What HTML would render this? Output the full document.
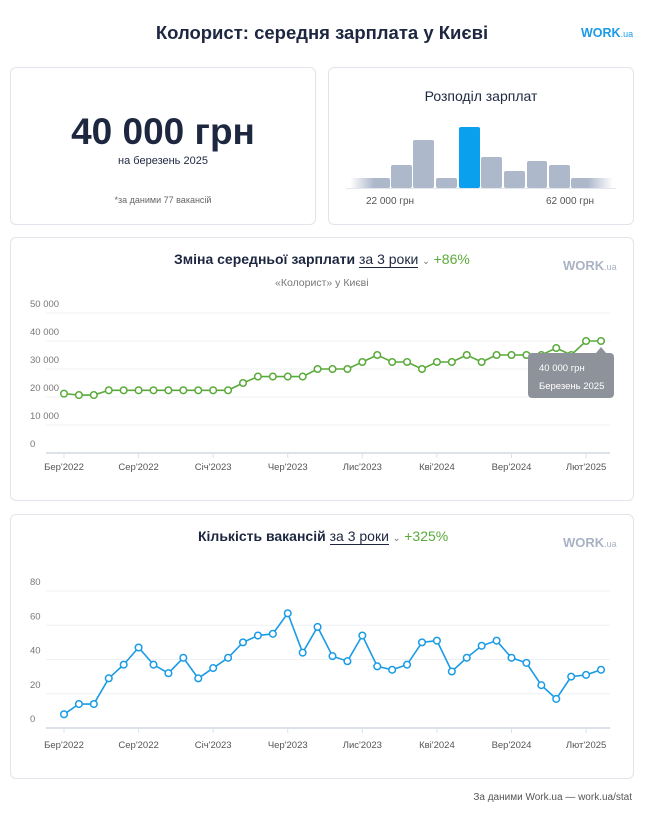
<!DOCTYPE html>
<html><head><meta charset="utf-8">
<style>
body{margin:0;background:#fff;font-family:"Liberation Sans","DejaVu Sans",sans-serif;}
#root{position:relative;width:656px;height:815px;overflow:hidden;background:#fff;}
.card{position:absolute;border:1px solid #e1e4ea;border-radius:6px;background:#fff;box-sizing:border-box;}
.abs{position:absolute;white-space:nowrap;}
svg text{font-family:"Liberation Sans","DejaVu Sans",sans-serif;}
</style></head>
<body><div id="root">
<div class="abs" style="left:0;width:644px;top:22px;text-align:center;font-size:18.5px;font-weight:bold;color:#1d2740;">Колорист: середня зарплата у Києві</div>
<div class="abs" style="left:581px;top:26px;font-size:12.5px;font-weight:bold;color:#1a9be6;">WORK<span style="font-size:9px;font-weight:normal">.ua</span></div>

<div class="card" style="left:10px;top:67px;width:306px;height:158px;">
 <div class="abs" style="left:0;width:304px;top:43px;text-align:center;font-size:37px;font-weight:bold;color:#1d2740;">40 000 грн</div>
 <div class="abs" style="left:0;width:304px;top:87px;text-align:center;font-size:11px;color:#1d2740;">на березень 2025</div>
 <div class="abs" style="left:0;width:304px;top:127px;text-align:center;font-size:9px;color:#666;">*за даними 77 вакансій</div>
</div>

<div class="card" style="left:328px;top:67px;width:306px;height:158px;">
 <div class="abs" style="left:0;width:304px;top:20px;text-align:center;font-size:14px;color:#1d2740;">Розподіл зарплат</div>
</div>
<svg class="abs" style="left:0;top:0" width="656" height="815" id="hist">
 <defs>
  <linearGradient id="fl" x1="0" x2="1"><stop offset="0" stop-color="#aeb8cb" stop-opacity="0"/><stop offset="0.6" stop-color="#aeb8cb"/></linearGradient>
  <linearGradient id="fr" x1="1" x2="0"><stop offset="0" stop-color="#aeb8cb" stop-opacity="0"/><stop offset="0.6" stop-color="#aeb8cb"/></linearGradient>
 </defs>
</svg>

<div class="card" style="left:10px;top:237px;width:624px;height:264px;">
 <div class="abs" style="left:163px;top:13px;font-size:14px;font-weight:bold;color:#1d2740;">Зміна середньої зарплати <span style="font-weight:normal;border-bottom:1px solid #1d2740;">за 3 роки</span> <span style="font-size:9px;color:#888;">&#8964;</span> <span style="color:#5aaa3a;font-weight:normal;">+86%</span></div>
 <div class="abs" style="left:264px;top:39px;font-size:10.5px;color:#777;">«Колорист» у Києві</div>
 <div class="abs" style="left:552px;top:20px;font-size:13px;font-weight:bold;color:#a9b3c4;">WORK<span style="font-size:9px;font-weight:normal">.ua</span></div>
</div>
<div class="card" style="left:10px;top:514px;width:624px;height:265px;">
 <div class="abs" style="left:187px;top:13px;font-size:14px;font-weight:bold;color:#1d2740;">Кількість вакансій <span style="font-weight:normal;border-bottom:1px solid #1d2740;">за 3 роки</span> <span style="font-size:9px;color:#888;">&#8964;</span> <span style="color:#5aaa3a;font-weight:normal;">+325%</span></div>
 <div class="abs" style="left:552px;top:20px;font-size:13px;font-weight:bold;color:#a9b3c4;">WORK<span style="font-size:9px;font-weight:normal">.ua</span></div>
</div>
<svg class="abs" style="left:0;top:0" width="656" height="815" id="charts"></svg>
<div class="abs" style="right:24px;top:792px;font-size:10px;color:#555;">За даними Work.ua — work.ua/stat</div>
</div>
<script>
const histHeights=[10,23,48,10,61,31,17,27,23,10];
const monthLabels=["Бер'2022","Сер'2022","Січ'2023","Чер'2023","Лис'2023","Кві'2024","Вер'2024","Лют'2025"];
const salaryTicks=[0,10000,20000,30000,40000,50000];
const salaryTickLabels=["0","10 000","20 000","30 000","40 000","50 000"];
const salaryValues=[21200,20700,20700,22400,22400,22400,22400,22400,22400,22400,22400,22400,25000,27300,27300,27300,27300,30000,30000,30000,32500,35000,32500,32500,30000,32500,32500,35000,32500,35000,35000,35000,35000,37500,35000,40000,40000];
const vacancyTicks=[0,20,40,60,80];
const vacancyValues=[8,14,14,29,37,47,37,32,41,29,35,41,50,54,55,67,44,59,42,39,54,36,34,37,50,51,33,41,48,51,41,38,25,17,30,31,34];
const NS="http://www.w3.org/2000/svg";
function mk(p,t,a){const e=document.createElementNS(NS,t);for(const k in a)e.setAttribute(k,a[k]);p.appendChild(e);return e;}
const hs=document.getElementById('hist');
const hx=[[350,390],[391,412],[413,434],[436,457],[459,480],[481,502],[504,525],[527,547],[549,570],[571,613]];
const hBase=188;
histHeights.forEach((h,i)=>{
 const fill=i===0?'url(#fl)':i===histHeights.length-1?'url(#fr)':i===4?'#0ba0ee':'#aeb8cb';
 const r=mk(hs,'rect',{x:hx[i][0],y:hBase-h,width:hx[i][1]-hx[i][0],height:h,rx:2,fill:fill});
 
 
});
mk(hs,'line',{x1:346,x2:616,y1:hBase+0.5,y2:hBase+0.5,stroke:'#e3e6ec'});
[[390,'22 000 грн'],[570,'62 000 грн']].forEach(([x,t])=>{const e=mk(hs,'text',{x:x,y:204,'text-anchor':'middle','font-size':10,fill:'#555'});e.textContent=t;
 
 });
const svg=document.getElementById('charts');
const x0=64,x1=601,n=salaryValues.length;
function xs(i){return x0+(x1-x0)*i/(n-1);}
function drawChart(vals,ticks,tlabels,vmax,yTop,yBase,color,name,labelY){
 const ys=v=>yBase-(yBase-yTop)*v/vmax;
 ticks.forEach((t,i)=>{
  mk(svg,'line',{x1:46,x2:610,y1:ys(t),y2:ys(t),stroke:t===0?'#dde1e8':'#eef0f3','stroke-width':t===0?2:1});
  const e=mk(svg,'text',{x:30,y:ys(t)-6,'font-size':9.5,fill:'#777'});e.textContent=tlabels[i];
  
  
 });
 monthLabels.forEach((l,i)=>{
  const x=xs(i*5);
  mk(svg,'line',{x1:x,x2:x,y1:yBase,y2:yBase+5,stroke:'#dde1e8'});
  const e=mk(svg,'text',{x:x,y:labelY,'font-size':9.5,fill:'#555','text-anchor':'middle'});e.textContent=l;
  
  
 });
 const pl=mk(svg,'polyline',{points:vals.map((v,i)=>xs(i)+','+ys(v)).join(' '),fill:'none',stroke:color,'stroke-width':1.6});
 
 
 vals.forEach((v,i)=>{const c=mk(svg,'circle',{cx:xs(i),cy:ys(v),r:3.3,fill:'#fff',stroke:color,'stroke-width':1.5});
  
  });
 return ys;
}
const sys=drawChart(salaryValues,salaryTicks,salaryTickLabels,50000,313,453,'#5aaa3a','salary',470);
drawChart(vacancyValues,vacancyTicks,vacancyTicks.map(String),80,591,728,'#1a9be6','vacancy',748);
const tx=xs(n-1),ty=sys(salaryValues[n-1]);
const tg=mk(svg,'g',{});


mk(tg,'path',{d:`M${tx-5},${ty+12} L${tx},${ty+6} L${tx+5},${ty+12} Z`,fill:'#8e929b'});
mk(tg,'rect',{x:528,y:ty+12,width:86,height:45,rx:4,fill:'#8e929b'});
const t1=mk(tg,'text',{x:539,y:ty+30,'font-size':9.5,fill:'#fff'});t1.textContent='40 000 грн';
const t2=mk(tg,'text',{x:539,y:ty+48,'font-size':9.5,fill:'#fff'});t2.textContent='Березень 2025';
</script>
</body></html>
